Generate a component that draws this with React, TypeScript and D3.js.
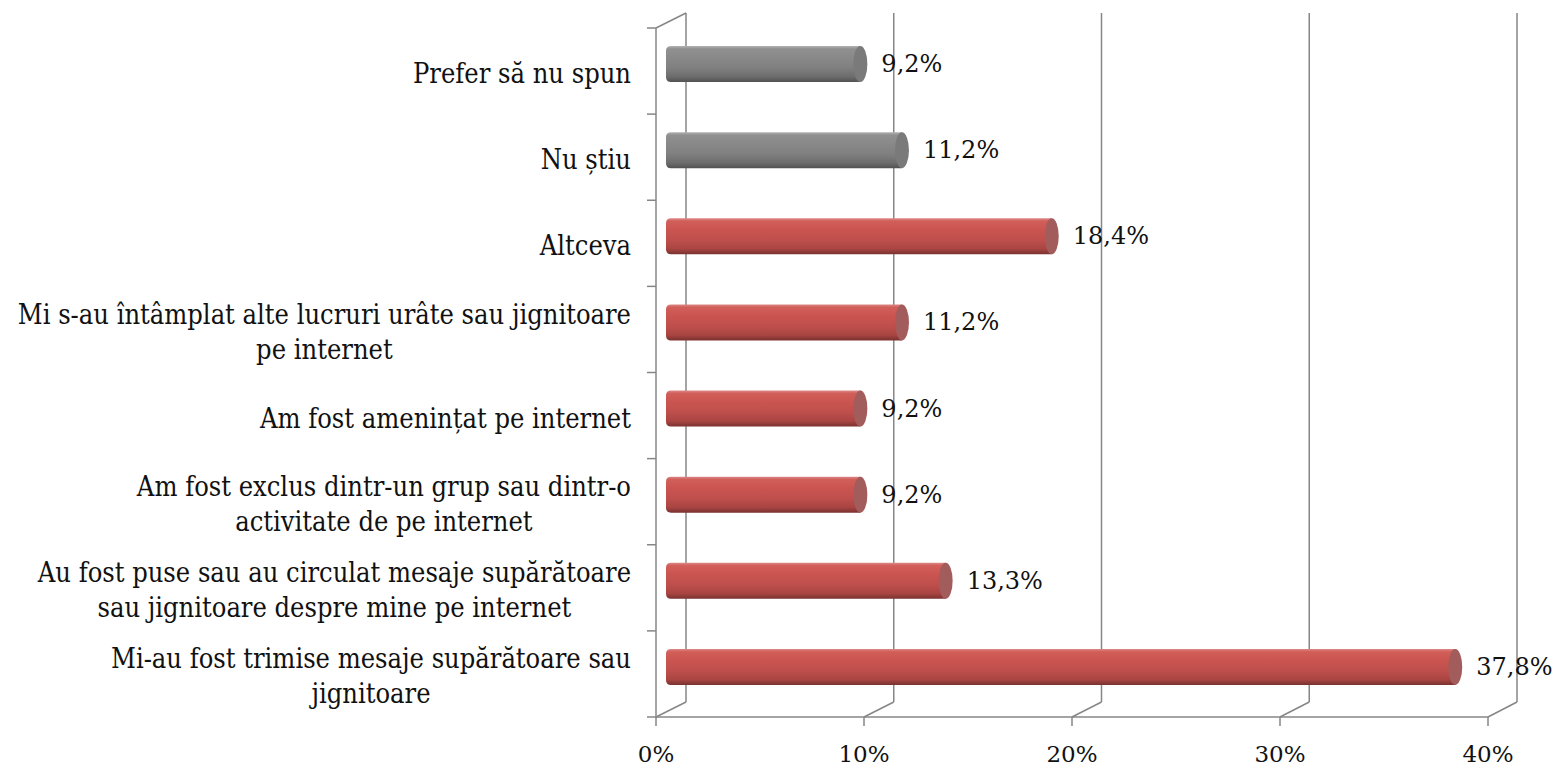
import { useEffect, useRef } from 'react';
import * as d3 from 'd3';

// categories top to bottom, lines already broken like the original
const categories = [
  ['Prefer să nu spun'],
  ['Nu știu'],
  ['Altceva'],
  ['Mi s-au întâmplat alte lucruri urâte sau jignitoare', 'pe internet'],
  ['Am fost amenințat pe internet'],
  ['Am fost exclus dintr-un grup sau dintr-o', 'activitate de pe internet'],
  ['Au fost puse sau au circulat mesaje supărătoare', 'sau jignitoare despre mine pe internet'],
  ['Mi-au fost trimise mesaje supărătoare sau', 'jignitoare'],
];
const values = [9.2, 11.2, 18.4, 11.2, 9.2, 9.2, 13.3, 37.8];
const tones = ['gray', 'gray', 'red', 'red', 'red', 'red', 'red', 'red'];
const xTicks = [0, 10, 20, 30, 40];

const W = 1557;
const H = 768;
const LABEL_FONT = "'DejaVu Serif Condensed', 'DejaVu Serif', serif";
const NUM_FONT = "'DejaVu Serif', serif";

const PALETTE: Record<string, { stops: [number, string][]; cap: string }> = {
  red: {
    stops: [[0, '#dc8a88'], [0.08, '#d25e5a'], [0.35, '#c9544f'], [0.6, '#bf4f4c'], [0.85, '#a94542'], [1, '#7a3230']],
    cap: '#a35c5c',
  },
  gray: {
    stops: [[0, '#b4b4b4'], [0.08, '#909090'], [0.35, '#888888'], [0.6, '#808080'], [0.85, '#6d6d6d'], [1, '#525252']],
    cap: '#7a7a7a',
  },
};

export default function App() {
  const svgRef = useRef<SVGSVGElement>(null);

  useEffect(() => {
    if (!svgRef.current) return;
    const svg = d3.select(svgRef.current);
    svg.selectAll('*').remove();

    const keys = categories.map((_, i) => String(i));
    const xFront = d3.scaleLinear().domain([0, 40]).range([656, 1488]);
    const xBack = d3.scaleLinear().domain([0, 40]).range([686, 1517]);
    const xBar = d3.scaleLinear().domain([0, 40]).range([676, 1508]);
    const y = d3.scaleBand().domain(keys).range([28, 717]).padding(0);
    const floorFront = 717;
    const floorBack = 702;
    const wallTop = 13;
    const grid = '#868686';

    const defs = svg.append('defs');
    Object.entries(PALETTE).forEach(([k, p]) => {
      const lg = defs.append('linearGradient')
        .attr('id', `grad-${k}`)
        .attr('x1', 0).attr('x2', 0).attr('y1', 0).attr('y2', 1);
      p.stops.forEach(([o, c]) => lg.append('stop').attr('offset', o).attr('stop-color', c));
    });

    // back wall gridlines
    svg.append('g').selectAll('line').data(xTicks).enter().append('line')
      .attr('x1', d => xBack(d)).attr('x2', d => xBack(d))
      .attr('y1', wallTop).attr('y2', floorBack)
      .attr('stroke', grid).attr('stroke-width', 1.5);

    // floor diagonals
    svg.append('g').selectAll('line').data(xTicks).enter().append('line')
      .attr('x1', d => xFront(d)).attr('x2', d => xBack(d))
      .attr('y1', floorFront).attr('y2', floorBack)
      .attr('stroke', grid).attr('stroke-width', 1.5);

    // left wall
    svg.append('line')
      .attr('x1', 656).attr('x2', 656).attr('y1', 28).attr('y2', floorFront)
      .attr('stroke', grid).attr('stroke-width', 1.5);
    svg.append('line')
      .attr('x1', 656).attr('x2', 686).attr('y1', 28).attr('y2', wallTop)
      .attr('stroke', grid).attr('stroke-width', 1.5);

    // category ticks
    const yTicks = keys.map(k => y(k)!).concat([717]);
    svg.append('g').selectAll('line').data(yTicks).enter().append('line')
      .attr('x1', 647).attr('x2', 656).attr('y1', d => d).attr('y2', d => d)
      .attr('stroke', grid).attr('stroke-width', 1.5);

    // x axis
    svg.append('line')
      .attr('x1', xFront(0)).attr('x2', xFront(40)).attr('y1', floorFront).attr('y2', floorFront)
      .attr('stroke', grid).attr('stroke-width', 1.5);
    svg.append('g').selectAll('line').data(xTicks).enter().append('line')
      .attr('x1', d => xFront(d)).attr('x2', d => xFront(d))
      .attr('y1', floorFront).attr('y2', floorFront + 9)
      .attr('stroke', grid).attr('stroke-width', 1.5);
    svg.append('g').selectAll('text').data(xTicks).enter().append('text')
      .attr('x', d => xFront(d)).attr('y', 762)
      .attr('text-anchor', 'middle')
      .attr('font-family', NUM_FONT).attr('font-size', 23).attr('fill', '#111')
      .text(d => `${d}%`);

    // bars
    const bh = 36;
    const capR = 7;
    const bars = svg.append('g').selectAll('g').data(values).enter().append('g');
    bars.each(function (v, i) {
      const g = d3.select(this);
      const top = y(keys[i])! + 18;
      const x0 = 666;
      const xe = xBar(v);
      const cx = xe - capR;
      const r = 5;
      const path = d3.path();
      path.moveTo(cx, top);
      path.lineTo(x0 + r, top);
      path.quadraticCurveTo(x0, top, x0, top + r);
      path.lineTo(x0, top + bh - r);
      path.quadraticCurveTo(x0, top + bh, x0 + r, top + bh);
      path.lineTo(cx, top + bh);
      path.closePath();
      g.append('path').attr('d', path.toString()).attr('fill', `url(#grad-${tones[i]})`);
      g.append('ellipse')
        .attr('cx', cx).attr('cy', top + bh / 2)
        .attr('rx', capR).attr('ry', bh / 2)
        .attr('fill', PALETTE[tones[i]].cap);
    });

    // value labels
    svg.append('g').selectAll('text').data(values).enter().append('text')
      .attr('x', d => xBar(d) + 14)
      .attr('y', (_, i) => y(keys[i])! + 18 + bh / 2)
      .attr('dominant-baseline', 'central')
      .attr('font-family', NUM_FONT).attr('font-size', 24).attr('fill', '#111')
      .text(d => `${d.toFixed(1).replace('.', ',')}%`);

    // category labels: block right-aligned, lines centred
    const lineH = 35;
    const right = 631;
    categories.forEach((lines, i) => {
      const cy = y(keys[i])! + y.bandwidth() / 2 + 2;
      const t = svg.append('text')
        .attr('font-family', LABEL_FONT).attr('font-size', 27)
        .attr('font-stretch', 'condensed').attr('fill', '#111')
        .attr('text-anchor', 'middle').attr('dominant-baseline', 'central');
      const spans = lines.map((ln, j) => t.append('tspan')
        .attr('y', cy + (j - (lines.length - 1) / 2) * lineH)
        .text(ln));
      const widest = d3.max(spans, s => (s.node() as SVGTSpanElement).getComputedTextLength()) || 0;
      spans.forEach(s => s.attr('x', right - widest / 2));
    });
  }, []);

  return (
    <div style={{ position: 'absolute', left: 0, top: 0, background: '#fff' }}>
      <svg ref={svgRef} width={W} height={H} style={{ display: 'block' }} />
    </div>
  );
}
